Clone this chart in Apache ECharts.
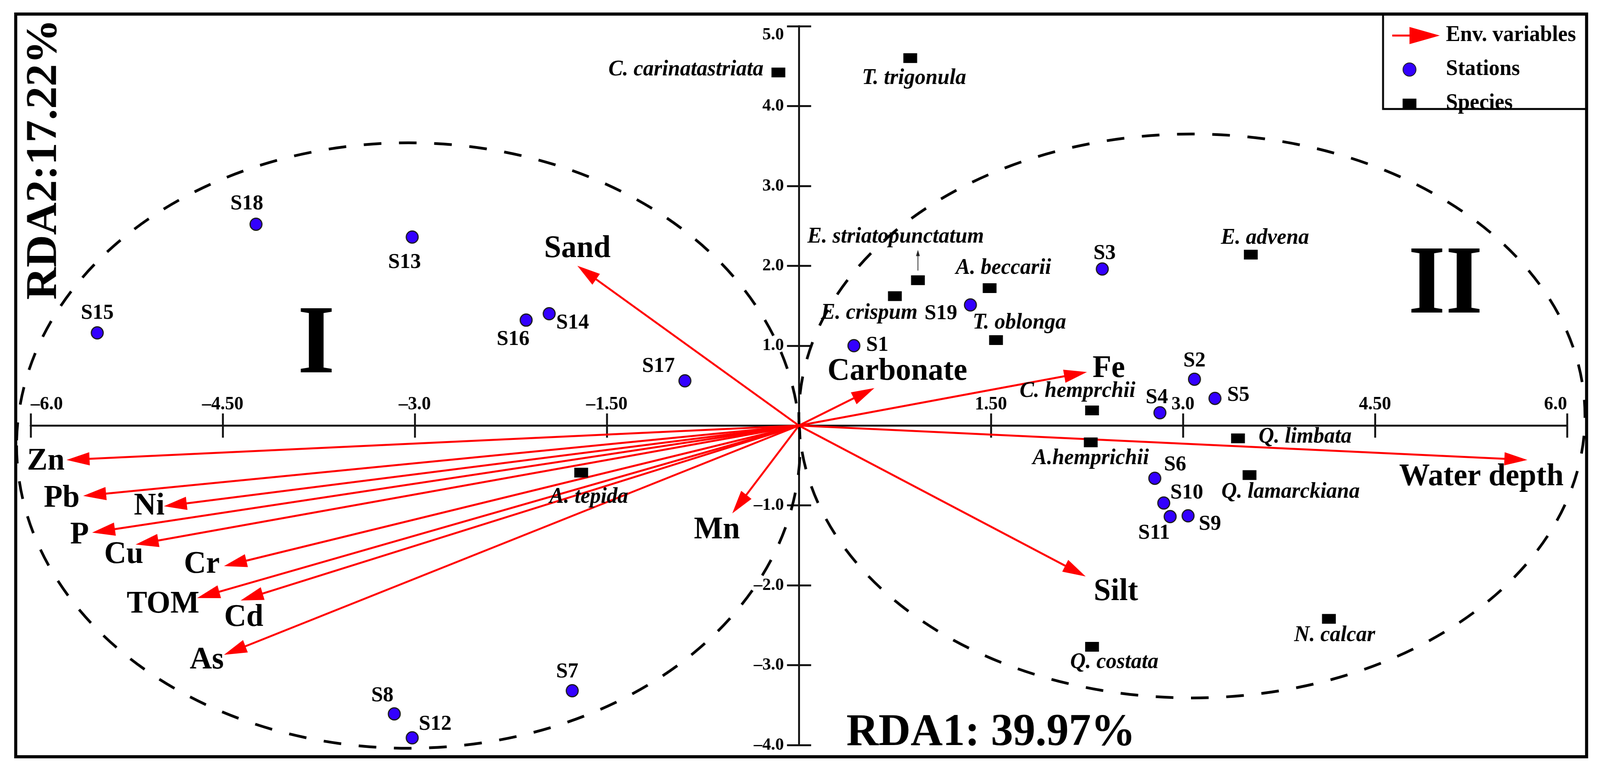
<!DOCTYPE html>
<html><head><meta charset="utf-8">
<script src="https://cdn.jsdelivr.net/npm/echarts@6/dist/echarts.min.js"></script>
<style>html,body{margin:0;padding:0;background:#fff;overflow:hidden}#c{width:4174px;height:1976px;transform-origin:0 0}</style>
</head><body><div id="c"></div>
<script>
// ---------- data ----------
const stationNames = ['S1','S2','S3','S4','S5','S6','S7','S8','S9','S10','S11','S12','S13','S14','S15','S16','S17','S18','S19'];
const stationX = [0.43, 3.09, 2.37, 2.82, 3.25, 2.78, -1.77, -3.16, 3.04, 2.85, 2.90, -3.02, -3.02, -1.95, -5.48, -2.13, -0.89, -4.24, 1.34];
const stationY = [1.00, 0.58, 1.96, 0.16, 0.34, -0.66, -3.32, -3.61, -1.13, -0.97, -1.14, -3.91, 2.36, 1.40, 1.16, 1.32, 0.56, 2.52, 1.51];

const speciesNames = ['C. carinatastriata','T. trigonula','E. striatopunctatum','E. crispum','A. beccarii','T. oblonga','E. advena','C. hemprchii','A.hemprichii','Q. limbata','Q. lamarckiana','A. tepida','N. calcar','Q. costata'];
const speciesX = [-0.16, 0.87, 0.93, 0.75, 1.49, 1.54, 3.53, 2.29, 2.28, 3.43, 3.52, -1.70, 4.14, 2.29];
const speciesY = [4.42, 4.60, 1.82, 1.62, 1.72, 1.07, 2.14, 0.19, -0.21, -0.16, -0.62, -0.59, -2.42, -2.77];

const envNames = ['Sand','Carbonate','Fe','Water depth','Silt','Mn','Zn','Pb','Ni','P','Cu','Cr','TOM','Cd','As'];
const envX = [-1.73, 0.59, 2.25, 5.69, 2.24, -0.52, -5.72, -5.59, -4.96, -5.52, -5.18, -4.49, -4.70, -4.36, -4.49];
const envY = [2.00, 0.47, 0.67, -0.43, -1.89, -1.10, -0.43, -0.88, -1.01, -1.34, -1.49, -1.76, -2.16, -2.19, -2.87];

const xTickValues = [-6, -4.5, -3, -1.5, 0, 1.5, 3, 4.5, 6];
const xTickLabels = ['\u20136.0', '\u20134.50', '\u20133.0', '\u20131.50', '', '1.50', '3.0', '4.50', '6.0'];
const yTickValues = [-4, -3, -2, -1, 0, 1, 2, 3, 4, 5];
const yTickLabels = ['\u20134.0', '\u20133.0', '\u20132.0', '\u20131.0', '', '1.0', '2.0', '3.0', '4.0', '5.0'];

// dashed group ellipses (data units)
const ellipseCX = [-3.05, 3.07];
const ellipseCY = [-0.25, 0.12];
const ellipseRX = [3.06, 3.07];
const ellipseRY = [3.79, 3.53];
const groupNames = ['I', 'II'];
const groupX = [-3.77, 5.05];
const groupY = [0.98, 1.73];

// small pointer arrow for E. striatopunctatum (data units)
const pointerArrow = [[0.93, 1.94, 2.20]];

// ---------- label placement (pixel offsets) ----------
const stationLabelOffset = {S1:[61,-1],S2:[0,-47],S3:[6,-40],S4:[-8,-39],S5:[61,-8],S6:[53,-34],S7:[-13,-48],S8:[-31,-46],S9:[57,22],S10:[60,-26],S11:[-42,43],S12:[60,-35],S13:[-20,65],S14:[61,24],S15:[0,-50],S16:[-34,49],S17:[-69,-37],S18:[-24,-52],S19:[-77,22]};
const speciesLabelOffset = {'C. carinatastriata':[-241,-7],'T. trigonula':[10,52],'E. striatopunctatum':[-58,-111],'E. crispum':[-67,44],'A. beccarii':[36,-51],'T. oblonga':[61,-44],'E. advena':[37,-42],'C. hemprchii':[-38,-49],'A.hemprichii':[0,41],'Q. limbata':[175,-3],'Q. lamarckiana':[107,44],'A. tepida':[20,63],'N. calcar':[15,43],'Q. costata':[58,40]};
const envLabelOffset = {'Sand':[0,-43],'Carbonate':[60,-42],'Fe':[57,-8],'Water depth':[-120,44],'Silt':[79,40],'Mn':[-40,43],'Zn':[-54,4],'Pb':[-56,7],'Ni':[-38,1],'P':[-33,7],'Cu':[-31,26],'Cr':[-58,-4],'TOM':[-89,17],'Cd':[8,44],'As':[-45,14]};

const FONT = '"Liberation Serif", "Times New Roman", serif';
const RED = '#ff0000';
const PAGE_W = 4174, PAGE_H = 1976;

// fit the drawing to the actual viewport
(function () {
  const el = document.getElementById('c');
  const w = window.innerWidth || PAGE_W, h = window.innerHeight || PAGE_H;
  const sx = w / PAGE_W, sy = h / PAGE_H;
  if (Math.abs(sx - 1) > 0.002 || Math.abs(sy - 1) > 0.002) {
    el.style.transform = 'scale(' + sx + ',' + sy + ')';
  }
})();

function fmt(values, labels) {
  return function (v) {
    const i = values.findIndex(t => Math.abs(t - v) < 1e-9);
    return i >= 0 ? labels[i] : '';
  };
}

function arrowGroup(p0, p1, headLen, headHalf, color, width) {
  const dx = p1[0] - p0[0], dy = p1[1] - p0[1];
  const len = Math.hypot(dx, dy) || 1;
  const ux = dx / len, uy = dy / len;
  const bx = p1[0] - ux * headLen, by = p1[1] - uy * headLen;
  return [
    {type: 'line', shape: {x1: p0[0], y1: p0[1], x2: bx + ux * 3, y2: by + uy * 3}, style: {stroke: color, lineWidth: width}},
    {type: 'polygon', shape: {points: [[p1[0], p1[1]], [bx - uy * headHalf, by + ux * headHalf], [bx + uy * headHalf, by - ux * headHalf]]}, style: {fill: color}}
  ];
}

// grid & axis ranges
const GRID = {left: 80, top: 67, width: 4008, height: 1840};
const X_MIN = -6, X_MAX = 6, Y_MIN = -4, Y_MAX = 5;
const zeroX = GRID.left + (0 - X_MIN) / (X_MAX - X_MIN) * GRID.width;
const zeroY = GRID.top + (Y_MAX - 0) / (Y_MAX - Y_MIN) * GRID.height;
// axis offsets that put the axes through the origin (labels stay beside the line)
const offTop = GRID.top - zeroY;
const offBottom = zeroY - (GRID.top + GRID.height);
const offLeft = GRID.left - zeroX;
const offRight = zeroX - (GRID.left + GRID.width);

const chart = echarts.init(document.getElementById('c'));

const axisLineStyle = {color: '#151515', width: 5};
const tickStyle = {color: '#151515', width: 5};
const option = {
  animation: false,
  backgroundColor: '#ffffff',
  grid: {left: GRID.left, width: GRID.width, top: GRID.top, height: GRID.height, containLabel: false, outerBoundsMode: 'none'},
  legend: {
    orient: 'vertical', left: 3631, top: 63, padding: 0,
    itemWidth: 124, itemHeight: 44, itemGap: 31, selectedMode: false,
    textStyle: {fontFamily: FONT, fontWeight: 'bold', fontSize: 56, color: '#000', padding: [0, 0, 0, 11]},
    data: [
      {name: 'Env. variables', icon: 'path://M0 0M124 44M0 19.5h48v5h-48zM45 0L124 22L45 44Z'},
      {name: 'Stations', icon: 'path://M0 0M124 44M28 22a17 17 0 1 0 34 0a17 17 0 1 0 -34 0z'},
      {name: 'Species', icon: 'path://M0 0M124 44M27 9.5h36v25h-36z'}
    ]
  },
  xAxis: [
    {type: 'value', position: 'bottom', offset: offBottom, min: X_MIN, max: X_MAX, interval: 1.5,
     axisLine: {show: true, onZero: false, lineStyle: axisLineStyle},
     axisTick: {show: true, length: 31, lineStyle: tickStyle},
     axisLabel: {show: false}, splitLine: {show: false}},
    {type: 'value', position: 'top', offset: offTop, min: X_MIN, max: X_MAX, interval: 1.5,
     axisLine: {show: true, onZero: false, lineStyle: axisLineStyle},
     axisTick: {show: true, length: 31, lineStyle: tickStyle},
     axisLabel: {show: true, margin: 30, fontFamily: FONT, fontWeight: 'bold', fontSize: 48, color: '#000',
                 formatter: fmt(xTickValues, xTickLabels), alignMinLabel: 'left', alignMaxLabel: 'right'},
     splitLine: {show: false}}
  ],
  yAxis: [
    {type: 'value', position: 'left', offset: offLeft, min: Y_MIN, max: Y_MAX, interval: 1,
     axisLine: {show: true, onZero: false, lineStyle: axisLineStyle},
     axisTick: {show: true, length: 31, lineStyle: tickStyle},
     axisLabel: {show: true, margin: 39, fontFamily: FONT, fontWeight: 'bold', fontSize: 45, color: '#000',
                 formatter: fmt(yTickValues, yTickLabels), verticalAlignMaxLabel: 'top'},
     splitLine: {show: false}},
    {type: 'value', position: 'right', offset: offRight, min: Y_MIN, max: Y_MAX, interval: 1,
     axisLine: {show: true, onZero: false, lineStyle: axisLineStyle},
     axisTick: {show: true, length: 32, lineStyle: tickStyle},
     axisLabel: {show: false}, splitLine: {show: false}}
  ],
  series: [
    {
      type: 'custom', name: 'groups', coordinateSystem: 'cartesian2d', z: 1, silent: true,
      data: ellipseCX.map((cx, i) => [cx, ellipseCY[i], ellipseRX[i], ellipseRY[i]]),
      renderItem: function (params, api) {
        const c = api.coord([api.value(0), api.value(1)]);
        const s = api.size([api.value(2), api.value(3)]);
        const rx = s[0], ry = s[1];
        const d = 'M ' + (c[0] - rx) + ' ' + c[1] + ' A ' + rx + ' ' + ry + ' 0 1 0 ' + (c[0] + rx) + ' ' + c[1] +
                  ' A ' + rx + ' ' + ry + ' 0 1 0 ' + (c[0] - rx) + ' ' + c[1] + ' Z';
        return {type: 'path', shape: {pathData: d}, style: {fill: 'none', stroke: '#000', lineWidth: 7, lineDash: [46, 46]}};
      }
    },
    {
      type: 'custom', name: 'Env. variables', coordinateSystem: 'cartesian2d', z: 3, silent: true,
      itemStyle: {color: RED},
      data: envX.map((x, i) => [x, envY[i]]),
      renderItem: function (params, api) {
        const p0 = api.coord([0, 0]);
        const p1 = api.coord([api.value(0), api.value(1)]);
        const name = envNames[params.dataIndex];
        const off = envLabelOffset[name] || [0, 0];
        const kids = arrowGroup(p0, p1, 60, 17, RED, 5);
        kids.push({type: 'text', x: p1[0] + off[0], y: p1[1] + off[1],
          style: {text: name, font: 'bold 80px ' + FONT, fill: '#000', align: 'center', verticalAlign: 'middle'}});
        return {type: 'group', children: kids};
      }
    },
    {
      type: 'custom', name: 'pointer', coordinateSystem: 'cartesian2d', z: 3, silent: true,
      data: pointerArrow,
      renderItem: function (params, api) {
        const p0 = api.coord([api.value(0), api.value(1)]);
        const p1 = api.coord([api.value(0), api.value(2)]);
        return {type: 'group', children: arrowGroup(p0, p1, 16, 5, '#222', 2)};
      }
    },
    {
      type: 'scatter', name: 'Stations', z: 5, symbol: 'circle', symbolSize: 31,
      itemStyle: {color: '#3300ff', borderColor: '#1a1a1a', borderWidth: 3, opacity: 1},
      label: {show: true, position: 'inside', formatter: '{b}', fontFamily: FONT, fontWeight: 'bold', fontSize: 55,
              color: '#000', align: 'center', verticalAlign: 'middle'},
      emphasis: {disabled: true},
      data: stationNames.map((n, i) => ({name: n, value: [stationX[i], stationY[i]], label: {offset: stationLabelOffset[n]}}))
    },
    {
      type: 'scatter', name: 'Species', z: 5, symbol: 'rect', symbolSize: [36, 25],
      itemStyle: {color: '#000000', opacity: 1},
      label: {show: true, position: 'inside', formatter: '{b}', fontFamily: FONT, fontWeight: 'bold', fontStyle: 'italic',
              fontSize: 56, color: '#000', align: 'center', verticalAlign: 'middle'},
      emphasis: {disabled: true},
      data: speciesNames.map((n, i) => ({name: n, value: [speciesX[i], speciesY[i]], label: {offset: speciesLabelOffset[n]}}))
    }
  ]
};
chart.setOption(option);

const graphics = [
  {type: 'rect', shape: {x: 41, y: 36, width: 4098, height: 1901}, style: {fill: 'none', stroke: '#000', lineWidth: 8}, z: 100, silent: true},
  {type: 'rect', shape: {x: 3608, y: 36, width: 531, height: 243}, style: {fill: 'none', stroke: '#000', lineWidth: 5}, z: 100, silent: true},
  {type: 'text', x: 116, y: 408, rotation: Math.PI / 2, z: 100, silent: true,
   style: {text: 'RDA2:17.22%', font: 'bold 115px ' + FONT, fill: '#000', align: 'center', verticalAlign: 'middle'}},
  {type: 'text', x: 2585, y: 1877, z: 100, silent: true,
   style: {text: 'RDA1: 39.97%', font: 'bold 116px ' + FONT, fill: '#000', align: 'center', verticalAlign: 'middle'}}
];
groupNames.forEach((g, i) => {
  const p = chart.convertToPixel({gridIndex: 0}, [groupX[i], groupY[i]]);
  graphics.push({type: 'text', x: p[0], y: p[1], z: 100, silent: true,
    style: {text: g, font: 'bold 250px ' + FONT, fill: '#000', align: 'center', verticalAlign: 'middle'}});
});
chart.setOption({graphic: graphics});
</script>
</body></html>
